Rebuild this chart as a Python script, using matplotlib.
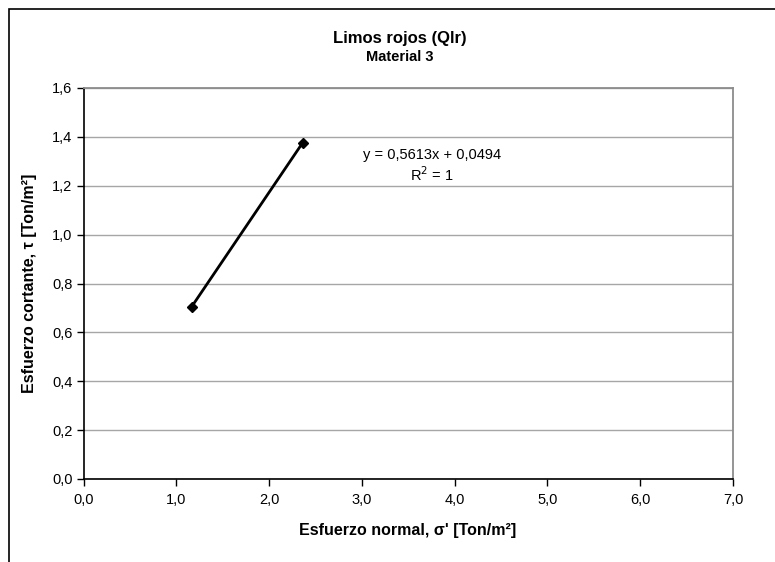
import matplotlib
matplotlib.use("Agg")
import matplotlib.pyplot as plt
from matplotlib.patches import Rectangle

# Data
sigma = [1.166, 2.362]
tau = [0.705, 1.376]
x_ticks = [0.0, 1.0, 2.0, 3.0, 4.0, 5.0, 6.0, 7.0]
y_ticks = [0.0, 0.2, 0.4, 0.6, 0.8, 1.0, 1.2, 1.4, 1.6]
title = "Limos rojos (Qlr)"
subtitle = "Material 3"
xlabel = "Esfuerzo normal, σ' [Ton/m²]"
ylabel = "Esfuerzo cortante, τ [Ton/m²]"
eq_text = "y = 0,5613x + 0,0494\nR$^2$ = 1"

plt.rcParams['font.family'] = ['Liberation Sans', 'DejaVu Sans']

W, H = 775, 562
fig = plt.figure(figsize=(W / 100, H / 100), dpi=100)

def fx(px):
    return px / W

def fy(py):
    return 1 - py / H

# chart border
fig.patches.append(Rectangle((fx(9), fy(600)), fx(900) - fx(9), fy(9) - fy(600),
                             transform=fig.transFigure, fill=False,
                             edgecolor='black', linewidth=1.2, zorder=0))

left, right, top, bottom = 83.5, 733, 88, 479
ax = fig.add_axes([fx(left), fy(bottom), fx(right) - fx(left), fy(top) - fy(bottom)])

ax.set_xlim(0, 7)
ax.set_ylim(0, 1.6)
ax.set_xticks(x_ticks)
ax.set_yticks(y_ticks)
ax.set_xticklabels([f"{v:.1f}".replace('.', ',') for v in x_ticks], fontsize=10.5)
ax.set_yticklabels([f"{v:.1f}".replace('.', ',') for v in y_ticks], fontsize=10.5)
ax.tick_params(axis='both', direction='out', length=5, width=1, color='black', pad=3)
ax.tick_params(axis='x', pad=5)

ax.grid(axis='y', color='#a6a6a6', linewidth=1)
ax.set_axisbelow(True)
for s in ['top', 'right']:
    ax.spines[s].set_color('#8c8c8c')
    ax.spines[s].set_linewidth(1.3)
for s in ['left', 'bottom']:
    ax.spines[s].set_color('black')
    ax.spines[s].set_linewidth(1.2)

ax.plot(sigma, tau, color='black', linewidth=2, marker='D', markersize=5.5,
        markerfacecolor='black', markeredgecolor='black', zorder=3, clip_on=False)

fig.text(fx(432), fy(166), eq_text, ha='center', va='center', fontsize=10.5,
         linespacing=1.15)

fig.text(fx(400), fy(38), title, ha='center', va='center', fontsize=12, fontweight='bold')
fig.text(fx(400), fy(57), subtitle, ha='center', va='center', fontsize=10.5, fontweight='bold')
fig.text(fx(408), fy(530), xlabel, ha='center', va='center', fontsize=11.5, fontweight='bold')
fig.text(fx(30), fy(283), ylabel, ha='center', va='center', fontsize=11.5,
         fontweight='bold', rotation=90)

fig.savefig("out.png", dpi=100)
